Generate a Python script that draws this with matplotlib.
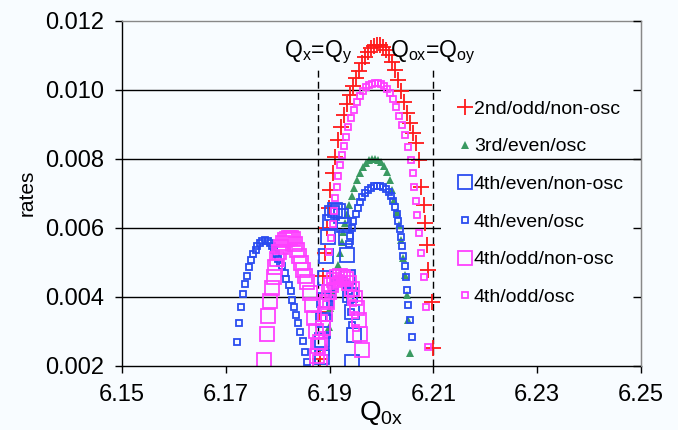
import matplotlib
matplotlib.use('Agg')
from matplotlib import pyplot as plt

plt.rcParams['font.family'] = ['Liberation Sans', 'DejaVu Sans']
plt.rcParams['mathtext.fontset'] = 'custom'
plt.rcParams['mathtext.rm'] = 'Liberation Sans'
plt.rcParams['mathtext.it'] = 'Liberation Sans'

BG = '#f8fcff'

x_ticks = [6.15, 6.17, 6.19, 6.21, 6.23, 6.25]
y_ticks = [0.002, 0.004, 0.006, 0.008, 0.010, 0.012]

# resonance lines (dashed) and their labels
resonance_q = [6.1878, 6.2100]
resonance_labels = ['Q$_\\mathrm{x}$=Q$_\\mathrm{y}$', 'Q$_\\mathrm{ox}$=Q$_\\mathrm{oy}$']

# 2nd/odd/non-osc
second_odd_nonosc_x = [6.1882, 6.1880, 6.1888, 6.1891, 6.1895, 6.1898, 6.1901, 6.1907, 6.1910, 6.1916,
                       6.1922, 6.1928, 6.1934, 6.1939, 6.1945, 6.1951, 6.1957, 6.1962, 6.1968, 6.1974,
                       6.1980, 6.1986, 6.1991, 6.1997, 6.2003, 6.2009, 6.2014, 6.2020, 6.2026, 6.2032,
                       6.2038, 6.2043, 6.2049, 6.2055, 6.2061, 6.2066, 6.2072, 6.2077, 6.2081, 6.2084,
                       6.2087, 6.2090, 6.2097, 6.2100]
second_odd_nonosc_y = [0.00219, 0.00355, 0.00460, 0.00526, 0.00599, 0.00657, 0.00709, 0.00758, 0.00805, 0.00854,
                       0.00892, 0.00927, 0.00958, 0.00985, 0.01011, 0.01034, 0.01054, 0.01077, 0.01095, 0.01109,
                       0.01121, 0.01127, 0.01130, 0.01130, 0.01124, 0.01115, 0.01101, 0.01080, 0.01057, 0.01028,
                       0.00996, 0.00964, 0.00932, 0.00903, 0.00874, 0.00845, 0.00796, 0.00717, 0.00666, 0.00613,
                       0.00550, 0.00477, 0.00385, 0.00251]

# 3rd/even/osc
third_even_osc_x = [6.1894, 6.1898, 6.1901, 6.1907, 6.1912, 6.1917, 6.1920, 6.1923, 6.1926, 6.1930,
                    6.1934, 6.1938, 6.1943, 6.1947, 6.1953, 6.1959, 6.1964, 6.1970, 6.1976, 6.1982,
                    6.1988, 6.1993, 6.1999, 6.2005, 6.2011, 6.2016, 6.2021, 6.2025, 6.2029, 6.2033,
                    6.2037, 6.2041, 6.2045, 6.2049, 6.2051, 6.2054]
third_even_osc_y = [0.00254, 0.00312, 0.00367, 0.00413, 0.00454, 0.00492, 0.00526, 0.00558, 0.00587, 0.00613,
                    0.00640, 0.00666, 0.00692, 0.00715, 0.00738, 0.00758, 0.00776, 0.00787, 0.00796, 0.00800,
                    0.00800, 0.00797, 0.00790, 0.00779, 0.00761, 0.00738, 0.00709, 0.00680, 0.00645, 0.00608,
                    0.00564, 0.00512, 0.00463, 0.00405, 0.00332, 0.00236]

# 4th/even/non-osc
fourth_even_nonosc_x = [6.1885, 6.1885, 6.1887, 6.1889, 6.1891, 6.1894, 6.1897, 6.1901, 6.1905, 6.1910,
                        6.1916, 6.1922, 6.1928, 6.1932, 6.1934, 6.1936, 6.1939, 6.1943, 6.1947, 6.1943]
fourth_even_nonosc_y = [0.00225, 0.00274, 0.00332, 0.00390, 0.00454, 0.00518, 0.00573, 0.00616, 0.00642, 0.00651,
                        0.00648, 0.00634, 0.00608, 0.00573, 0.00521, 0.00457, 0.00405, 0.00355, 0.00289, 0.00210]

# 4th/even/osc
fourth_even_osc_x = [6.1937, 6.1940, 6.1943, 6.1946, 6.1950, 6.1954, 6.1959, 6.1963, 6.1968, 6.1974,
                     6.1980, 6.1986, 6.1991, 6.1997, 6.2003, 6.2009, 6.2014, 6.2018, 6.2022, 6.2026,
                     6.2029, 6.2032, 6.2035, 6.2037, 6.2040, 6.2042, 6.2045, 6.2047, 6.2049, 6.2051,
                     6.2055, 6.2058,
                     6.1722, 6.1725, 6.1729, 6.1734, 6.1738, 6.1741, 6.1745, 6.1749, 6.1753, 6.1758,
                     6.1761, 6.1765, 6.1770, 6.1776, 6.1781, 6.1785, 6.1789, 6.1793, 6.1797, 6.1801,
                     6.1805, 6.1809, 6.1814, 6.1817, 6.1822, 6.1825, 6.1828, 6.1832, 6.1835, 6.1839,
                     6.1843, 6.1849, 6.1853, 6.1856,
                     6.1893, 6.1895, 6.1898, 6.1901, 6.1905, 6.1910, 6.1916, 6.1922, 6.1928, 6.1934,
                     6.1937, 6.1940, 6.1942, 6.1944]
fourth_even_osc_y = [0.00553, 0.00576, 0.00599, 0.00619, 0.00640, 0.00657, 0.00674, 0.00689, 0.00700, 0.00709,
                     0.00716, 0.00721, 0.00722, 0.00721, 0.00718, 0.00712, 0.00703, 0.00692, 0.00677, 0.00660,
                     0.00640, 0.00619, 0.00596, 0.00573, 0.00547, 0.00518, 0.00489, 0.00457, 0.00419, 0.00376,
                     0.00332, 0.00283,
                     0.00268, 0.00325, 0.00369, 0.00407, 0.00436, 0.00461, 0.00485, 0.00506, 0.00523, 0.00535,
                     0.00548, 0.00557, 0.00562, 0.00564, 0.00562, 0.00557, 0.00548, 0.00535, 0.00523, 0.00510,
                     0.00499, 0.00488, 0.00470, 0.00451, 0.00434, 0.00417, 0.00390, 0.00371, 0.00347, 0.00323,
                     0.00297, 0.00272, 0.00241, 0.00212,
                     0.00240, 0.00289, 0.00338, 0.00379, 0.00408, 0.00431, 0.00445, 0.00451, 0.00448, 0.00436,
                     0.00416, 0.00390, 0.00355, 0.00318]

# 4th/odd/non-osc
fourth_odd_nonosc_x = [6.1774, 6.1779, 6.1782, 6.1785, 6.1789, 6.1792, 6.1795, 6.1799, 6.1803, 6.1806,
                       6.1810, 6.1814, 6.1818, 6.1822, 6.1826, 6.1830, 6.1833, 6.1837, 6.1841, 6.1845,
                       6.1849, 6.1853, 6.1857, 6.1862, 6.1866, 6.1870, 6.1874, 6.1878, 6.1882,
                       6.1876, 6.1882, 6.1887, 6.1891, 6.1895, 6.1899, 6.1903, 6.1909, 6.1914, 6.1920,
                       6.1926, 6.1932, 6.1937, 6.1943, 6.1949, 6.1953, 6.1956, 6.1959, 6.1962]
fourth_odd_nonosc_y = [0.00216, 0.00292, 0.00344, 0.00388, 0.00425, 0.00457, 0.00486, 0.00509, 0.00530, 0.00544,
                       0.00556, 0.00563, 0.00567, 0.00569, 0.00569, 0.00567, 0.00553, 0.00535, 0.00518, 0.00498,
                       0.00477, 0.00460, 0.00443, 0.00411, 0.00376, 0.00338, 0.00301, 0.00257, 0.00211,
                       0.00228, 0.00269, 0.00309, 0.00350, 0.00385, 0.00414, 0.00434, 0.00448, 0.00457, 0.00460,
                       0.00457, 0.00451, 0.00439, 0.00422, 0.00396, 0.00367, 0.00332, 0.00292, 0.00245]

# 4th/odd/osc
fourth_odd_osc_x = [6.1899, 6.1903, 6.1906, 6.1909, 6.1911, 6.1914, 6.1917, 6.1920, 6.1923, 6.1927,
                    6.1931, 6.1936, 6.1941, 6.1947, 6.1953, 6.1959, 6.1964, 6.1970, 6.1976, 6.1982,
                    6.1988, 6.1993, 6.1999, 6.2005, 6.2011, 6.2016, 6.2022, 6.2028, 6.2034, 6.2040,
                    6.2045, 6.2051, 6.2057, 6.2061, 6.2063, 6.2066, 6.2068, 6.2072, 6.2077, 6.2082,
                    6.2086, 6.2089,
                    6.1882, 6.1885, 6.1889, 6.1893, 6.1897, 6.1903, 6.1909, 6.1914, 6.1920, 6.1926,
                    6.1932, 6.1937, 6.1941, 6.1945, 6.1949, 6.1951]
fourth_odd_osc_y = [0.00529, 0.00570, 0.00611, 0.00648, 0.00686, 0.00718, 0.00750, 0.00782, 0.00811, 0.00837,
                    0.00863, 0.00892, 0.00918, 0.00941, 0.00964, 0.00982, 0.00996, 0.01008, 0.01014, 0.01018,
                    0.01019, 0.01019, 0.01016, 0.01011, 0.01002, 0.00990, 0.00973, 0.00950, 0.00924, 0.00898,
                    0.00869, 0.00834, 0.00796, 0.00758, 0.00718, 0.00677, 0.00637, 0.00584, 0.00526, 0.00457,
                    0.00370, 0.00254,
                    0.00240, 0.00289, 0.00338, 0.00379, 0.00408, 0.00431, 0.00445, 0.00451, 0.00454, 0.00451,
                    0.00442, 0.00428, 0.00408, 0.00382, 0.00347, 0.00309]

RED = '#ff1a1a'
GREEN = '#3a9a62'
BLUE = '#2a4cf0'
MAGENTA = '#ff40ff'


def main():
    fig = plt.figure(figsize=(6.78, 4.30), dpi=100, facecolor=BG)
    ax = fig.add_axes([0.1799, 0.1495, 0.7655, 0.8023], facecolor=BG)

    ax.plot(second_odd_nonosc_x, second_odd_nonosc_y, ls='none', marker='+',
            ms=11, mew=1.3, color=RED, label='2nd/odd/non-osc', zorder=3)
    ax.plot(third_even_osc_x, third_even_osc_y, ls='none', marker='^',
            ms=5.5, mew=0, color=GREEN, label='3rd/even/osc', zorder=3)
    ax.plot(fourth_even_nonosc_x, fourth_even_nonosc_y, ls='none', marker='s',
            ms=10.5, mew=1.3, mfc='none', mec=BLUE, label='4th/even/non-osc', zorder=3)
    ax.plot(fourth_even_osc_x, fourth_even_osc_y, ls='none', marker='s',
            ms=4.6, mew=1.3, mfc='none', mec=BLUE, label='4th/even/osc', zorder=3)
    ax.plot(fourth_odd_nonosc_x, fourth_odd_nonosc_y, ls='none', marker='s',
            ms=10.5, mew=1.3, mfc='none', mec=MAGENTA, label='4th/odd/non-osc', zorder=3)
    ax.plot(fourth_odd_osc_x, fourth_odd_osc_y, ls='none', marker='s',
            ms=4.6, mew=1.3, mfc='none', mec=MAGENTA, label='4th/odd/osc', zorder=3)

    ax.set_xlim(x_ticks[0], x_ticks[-1])
    ax.set_ylim(y_ticks[0], y_ticks[-1])

    # horizontal grid; the 0.008 line runs over the legend box
    for yv in y_ticks[1:-1]:
        ax.axhline(yv, color='black', lw=1.0, zorder=6 if abs(yv - 0.008) < 1e-9 else 0.5)

    for q, lab in zip(resonance_q, resonance_labels):
        ax.vlines(q, y_ticks[0], 0.01063, colors='black', lw=1.0,
                  linestyles=(0, (5, 3)), zorder=2)
        ax.text(q, 0.01109, lab, ha='center', va='center', fontsize=16.5)

    ax.set_xticks(x_ticks)
    ax.set_xticklabels(['%.2f' % v for v in x_ticks])
    ax.set_yticks(y_ticks)
    ax.set_yticklabels(['%.3f' % v for v in y_ticks])
    ax.tick_params(axis='both', direction='out', length=5, width=1,
                   labelsize=17, colors='black')
    ax.tick_params(axis='x', pad=8)
    ax.tick_params(axis='y', pad=8)

    for side in ('left', 'bottom'):
        ax.spines[side].set_color('black')
        ax.spines[side].set_linewidth(1.0)
    for side in ('top', 'right'):
        ax.spines[side].set_color('#888888')
        ax.spines[side].set_linewidth(1.0)
    for side in ax.spines:
        ax.spines[side].set_zorder(7)

    # inward ticks on the right frame, drawn above the legend box
    right = ax.secondary_yaxis('right')
    right.set_yticks(y_ticks)
    right.tick_params(direction='in', length=6, width=1, labelright=False)
    right.spines['right'].set_color('#888888')
    right.set_zorder(8)

    ax.set_ylabel('rates', fontsize=15, labelpad=6)
    ax.set_xlabel('Q$_\\mathrm{0x}$', fontsize=20, labelpad=-5)

    leg = ax.legend(loc='upper left', bbox_to_anchor=(0.614, 0.818), borderaxespad=0,
                    numpoints=1, fontsize=14, labelspacing=1.03, handlelength=0.8,
                    handletextpad=0.05, borderpad=0.86, frameon=True, fancybox=False)
    leg.get_frame().set_facecolor(BG)
    leg.get_frame().set_edgecolor('none')
    leg.get_frame().set_alpha(1)
    leg.set_zorder(5)

    fig.savefig('out.png', dpi=100, facecolor=BG)


if __name__ == '__main__':
    main()
